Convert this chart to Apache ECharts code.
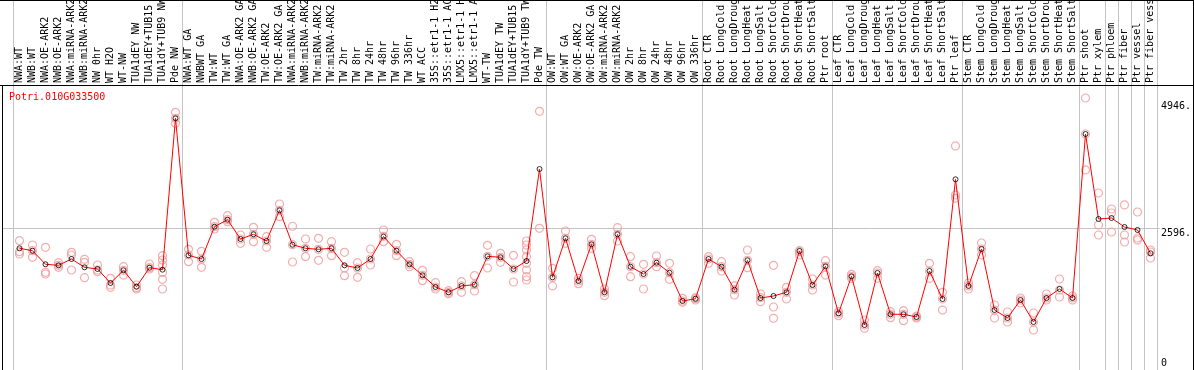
<!DOCTYPE html>
<html>
<head>
<meta charset="utf-8">
<script src="https://cdn.jsdelivr.net/npm/echarts@6/dist/echarts.min.js"></script>
<style>
html,body{margin:0;padding:0;background:#fff;}
#chart{width:1194px;height:370px;}
</style>
</head>
<body>
<div id="chart"></div>
<script>
const geneName = 'Potri.010G033500';

const categories = [
  'NWA:WT','NWB:WT','NWA:OE-ARK2','NWB:OE-ARK2','NWA:miRNA-ARK2','NWB:miRNA-ARK2','NW 0hr','WT H2O','WT-NW','TUA1dEY NW','TUA1dEY+TUB15 NW','TUA1dY+TUB9 NW','Pde NW',
  'NWA:WT GA','NWBWT GA','TW:WT','TW:WT GA','NWA:OE-ARK2 GA','NWB:OE-ARK2 GA','TW:OE-ARK2','TW:OE-ARK2 GA','NWA:miRNA-ARK2 GA','NWB:miRNA-ARK2 GA','TW:miRNA-ARK2','TW:miRNA-ARK2 GA',
  'TW 2hr','TW 8hr','TW 24hr','TW 48hr','TW 96hr','TW 336hr','WT ACC','35S::etr1-1 H2O','35S::etr1-1 ACC','LMX5::etr1-1 H2O','LMX5::etr1-1 ACC','WT-TW','TUA1dEY TW','TUA1dEY+TUB15 TW','TUA1dY+TUB9 TW','Pde TW',
  'OW:WT','OW:WT GA','OW:OE-ARK2','OW:OE-ARK2 GA','OW:miRNA-ARK2','OW:miRNA-ARK2 GA','OW 2hr','OW 8hr','OW 24hr','OW 48hr','OW 96hr','OW 336hr',
  'Root CTR','Root LongCold','Root LongDrought','Root LongHeat','Root LongSalt','Root ShortCold','Root ShortDrought','Root ShortHeat','Root ShortSalt','Ptr root',
  'Leaf CTR','Leaf LongCold','Leaf LongDrought','Leaf LongHeat','Leaf LongSalt','Leaf ShortCold','Leaf ShortDrought','Leaf ShortHeat','Leaf ShortSalt','Ptr leaf',
  'Stem CTR','Stem LongCold','Stem LongDrought','Stem LongHeat','Stem LongSalt','Stem ShortCold','Stem ShortDrought','Stem ShortHeat','Stem ShortSalt','Ptr shoot',
  'Ptr xylem','Ptr phloem','Ptr fiber','Ptr vessel','Ptr fiber vessel'
];

// indices where a new sample group begins (vertical separators)
const groupStarts = [0, 13, 41, 53, 63, 73, 82, 84, 85, 86, 87];

const meanValues = [
  2220,2175,1923,1904,2021,1867,1836,1576,1812,1508,1860,1823,4630,
  2090,2021,2620,2750,2392,2479,2355,2924,2286,2220,2201,2220,1904,1854,2021,2438,2175,1923,1719,1502,1404,1521,1545,2071,2053,1836,1984,3690,
  1682,2405,1613,2294,1404,2479,1878,1743,1953,1767,1242,1285,
  2021,1878,1452,1997,1298,1335,1404,2170,1539,1886,
  1014,1700,797,1762,996,996,946,1799,1279,3499,
  1521,2207,1075,927,1261,853,1298,1465,1298,4339,
  2763,2781,2615,2559,2127
];

const replicateValues = [
  [2361,2157,2114],[2281,2053,2175],[2238,1775,1743],[1953,1867,1904],[2145,2095,1817],
  [2016,1960,1674],[1910,1817,1786],[1663,1539,1496],[1878,1724,1812],[1539,1489,1465],
  [1928,1860,1836],[2082,2003,1910,1775,1645,1465],[4741,4630,4537],
  [2201,2095,1971],[2164,2021,1867],[2702,2620,2577],[2824,2750,2713],[2466,2392,2312],
  [2609,2479,2342],[2435,2355,2238],[3041,2924,2806],[2628,2286,1966],[2392,2220,2064],
  [2405,2201,1997],[2342,2220,2082],[2145,1854,1712],[1953,1854,1682],[2207,2021,1910],
  [2559,2442,2342],[2294,2175,2082],[1971,1923,1878],[1812,1719,1619],[1582,1502,1465],
  [1433,1404,1378],[1600,1521,1404],[1712,1545,1428],[2275,2071,1854],[2127,2053,1960],
  [2090,1836,1595],[2355,2281,2188,2064,1941,1817,1693,1632],[4760,2590],
  [1849,1682,1521],[2540,2405,2312],[1663,1613,1563],[2386,2294,2220],[1465,1404,1341],
  [2602,2479,2355],[2064,1878,1693],[1923,1743,1465],[2077,1953,1878],[1941,1767,1645],
  [1292,1242,1218],[1304,1285,1261],
  [2064,2021,1941],[1971,1878,1799],[1521,1452,1354],[2188,1997,1860],[1372,1304,1229],
  [1904,1131,922],[1496,1404,1279],[2175,2157,2095],[1650,1539,1446],[1990,1886,1724],
  [1044,1014,970],[1737,1700,1663],[890,797,736],[1804,1762,1663],[1044,996,933],
  [1063,996,877],[964,946,927],[1941,1799,1663],[1404,1279,1075],[4117,3208,3147],
  [1576,1521,1465],[2318,2207,2095],[1168,1075,927],[1038,927,853],[1298,1261,1205],
  [1020,853,705],[1372,1298,1261],[1650,1446,1317],[1335,1298,1261],[5007,4339,3672],
  [3245,2652,2466],[2948,2874,2522],[3023,2466,2336],[2893,2411,2374],[2188,2151,2040]
];

const yMax = 5192;
const yGridStep = 2596;
const yUpperLabels = [2596, 4946];
const yZeroLabel = [0];

const MONO = 'DejaVu Sans Mono';
const SEP = '#c4c4c4';
const NONE = 'rgba(0,0,0,0)';

const repPoints = [];
replicateValues.forEach((arr, i) => arr.forEach(v => repPoints.push([i, v])));
const labelData = categories.map((c, i) => [i, 0]);

const sepInterval = (idx) => groupStarts.indexOf(idx) >= 0;

const chart = echarts.init(document.getElementById('chart'), null, {renderer: 'canvas'});
chart.setOption({
  animation: false,
  backgroundColor: '#fff',
  title: {
    text: geneName, left: 9, top: 92, padding: 0, z: 20,
    textStyle: {color: '#ff0000', fontSize: 10, fontFamily: MONO, fontWeight: 'normal'}
  },
  grid: [
    {left: 2, right: 31, top: 88, bottom: 2},
    {left: 13, right: 37, top: 88, bottom: 2},
    {left: 13, right: 37, top: 0, bottom: 0},
    {left: 13, right: 37, top: 0, height: 85}
  ],
  xAxis: [
    {gridIndex: 0, type: 'value', min: 0, max: 1, show: false},
    {gridIndex: 1, type: 'category', data: categories, boundaryGap: true,
     axisLine: {show: false, onZero: false}, axisTick: {show: false}, axisLabel: {show: false},
     splitLine: {show: false}},
    {gridIndex: 2, type: 'category', data: categories, boundaryGap: true,
     axisLine: {show: false, onZero: false}, axisTick: {show: false}, axisLabel: {show: false},
     splitLine: {show: true, interval: sepInterval, lineStyle: {color: SEP, width: 1}}},
    {gridIndex: 3, type: 'category', data: categories, boundaryGap: true,
     axisLine: {show: false, onZero: false}, axisTick: {show: false}, axisLabel: {show: false},
     splitLine: {show: false}}
  ],
  yAxis: [
    {gridIndex: 0, type: 'value', min: 0, max: yMax, interval: yGridStep, position: 'right',
     axisLine: {show: false}, axisTick: {show: false},
     splitLine: {show: true, lineStyle: {color: [NONE, SEP, NONE], width: 1}},
     axisLabel: {customValues: yUpperLabels, formatter: v => v + '.', verticalAlign: 'top', margin: 1,
                 fontFamily: MONO, fontSize: 10, color: '#000'}},
    {gridIndex: 0, type: 'value', min: 0, max: yMax, position: 'right',
     axisLine: {show: false}, axisTick: {show: false}, splitLine: {show: false},
     axisLabel: {customValues: yZeroLabel, formatter: v => String(v), verticalAlign: 'bottom', margin: 1,
                 fontFamily: MONO, fontSize: 10, color: '#000'}},
    {gridIndex: 1, type: 'value', min: 0, max: yMax, show: false},
    {gridIndex: 2, type: 'value', min: 0, max: 1, show: false},
    {gridIndex: 3, type: 'value', min: 0, max: 1, show: false}
  ],
  series: [
    {type: 'custom', xAxisIndex: 3, yAxisIndex: 4, data: labelData, z: 10, silent: true,
     renderItem: function (params, api) {
       const idx = api.value(0);
       const p = api.coord([idx, 0]);
       return {
         type: 'text', x: p[0], y: p[1] - 2, rotation: Math.PI / 2,
         style: {text: categories[idx], font: '10px "DejaVu Sans Mono"', fill: '#000',
                 align: 'left', verticalAlign: 'middle'}
       };
     }},
    {type: 'scatter', xAxisIndex: 1, yAxisIndex: 2, data: repPoints, symbol: 'circle', symbolSize: 8, z: 2,
     itemStyle: {color: NONE, borderColor: '#f09a9a', borderWidth: 1.2}},
    {type: 'line', xAxisIndex: 1, yAxisIndex: 2, data: meanValues, symbol: 'circle', symbolSize: 9, z: 4,
     lineStyle: {color: '#ff0000', width: 1},
     itemStyle: {color: NONE, borderColor: '#ff0000', borderWidth: 1.6}},
    {type: 'scatter', xAxisIndex: 1, yAxisIndex: 2, data: meanValues, symbol: 'circle', symbolSize: 5, z: 5,
     itemStyle: {color: NONE, borderColor: '#000000', borderWidth: 1}}
  ],
  graphic: [
    {type: 'line', z: 100, shape: {x1: 0, y1: 0.5, x2: 1194, y2: 0.5}, style: {stroke: '#000', lineWidth: 1}},
    {type: 'line', z: 100, shape: {x1: 0, y1: 85.5, x2: 1194, y2: 85.5}, style: {stroke: '#000', lineWidth: 1}},
    {type: 'line', z: 100, shape: {x1: 2.5, y1: 85, x2: 2.5, y2: 370}, style: {stroke: '#000', lineWidth: 1}},
    {type: 'line', z: 100, shape: {x1: 1193.5, y1: 0, x2: 1193.5, y2: 370}, style: {stroke: '#000', lineWidth: 1}}
  ]
});
</script>
</body>
</html>
